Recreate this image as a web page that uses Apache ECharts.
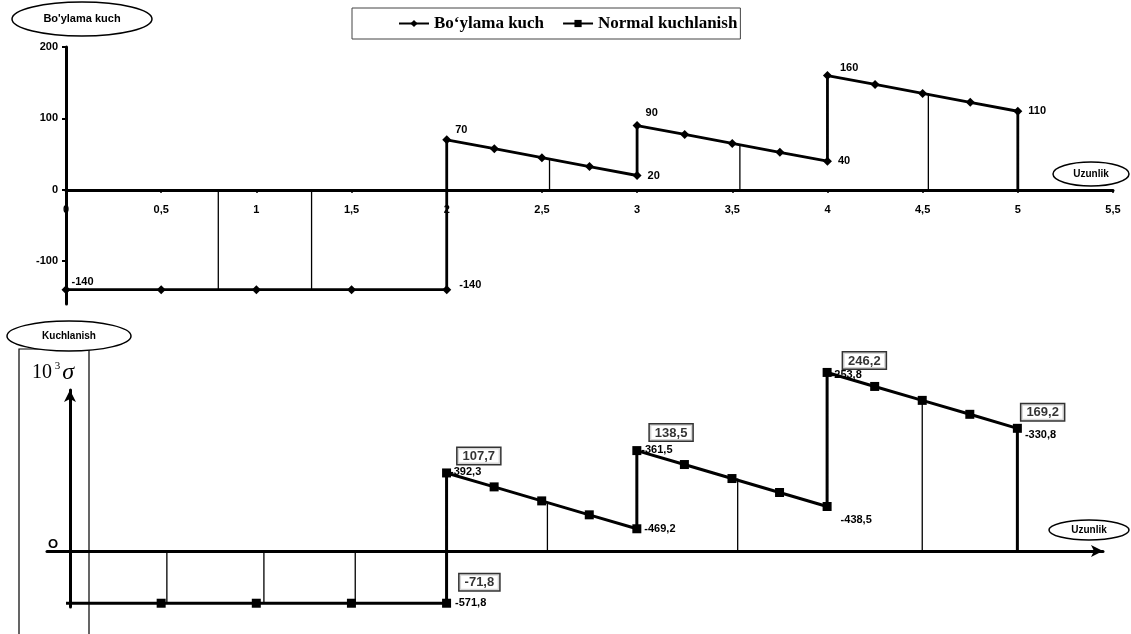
<!DOCTYPE html>
<html>
<head>
<meta charset="utf-8">
<script src="https://cdn.jsdelivr.net/npm/echarts@6/dist/echarts.min.js"></script>
<style>
  html, body { margin: 0; padding: 0; background: #fff; }
  #chart { width: 1131px; height: 634px; }
</style>
</head>
<body>
<div id="chart"></div>
<script>
// Bo'ylama kuch along the length
const forceX = [0, 0.5, 1, 1.5, 2, 2, 2.25, 2.5, 2.75, 3, 3, 3.25, 3.5, 3.75, 4, 4, 4.25, 4.5, 4.75, 5, 5];
const forceY = [-140, -140, -140, -140, -140, 70, 57.5, 45, 32.5, 20, 90, 77.5, 65, 52.5, 40, 160, 147.5, 135, 122.5, 110, 0];
const forceLabelIdx = [0, 4, 5, 9, 10, 14, 15, 19];
// thin hatch lines under the force diagram
const forceHatchX = [0.8, 1.29, 2.54, 3.54, 4.53];
const forceHatchY = [-140, -140, 44, 64, 135];

// normal kuchlanish (10^3 sigma)
const stressX = [0, 0.5, 1, 1.5, 2, 2, 2.25, 2.5, 2.75, 3, 3, 3.25, 3.5, 3.75, 4, 4, 4.25, 4.5, 4.75, 5, 5];
const stressY = [-71.8, -71.8, -71.8, -71.8, -71.8, 107.7, 88.5, 69.2, 50, 30.8, 138.5, 119.3, 100, 80.8, 61.5, 246.2, 226.9, 207.7, 188.5, 169.2, 0];
const stressHatchX = [0.53, 1.04, 1.52, 2.53, 3.53, 4.5];
const stressHatchY = [-71.8, -71.8, -71.8, 68, 100, 207];
// boxed values
const boxX = [2, 2, 3, 4, 5];
const boxY = [-71.8, 107.7, 138.5, 246.2, 169.2];
// the small numbers printed beside the stress points
const smallIdx = [4, 5, 9, 10, 14, 15, 19];
const smallVals = [-571.8, -392.3, -469.2, -361.5, -438.5, -253.8, -330.8];

const xTicks = [0, 0.5, 1, 1.5, 2, 2.5, 3, 3.5, 4, 4.5, 5, 5.5];
const forceTicks = [-100, 0, 100, 200];

const comma = (v) => String(v).replace('.', ',');
const font = 'Liberation Sans, Arial, sans-serif';

// label nudges (layout only)
const forceLabelOffset = {0: [-3, -8], 4: [4, -5], 5: [0, -10], 9: [2, 0], 10: [0, -13], 14: [2, 0], 15: [4, -8], 19: [2, 0]};
const smallOffset = {4: [1, 0], 5: [-4, -1], 9: [0, 0], 10: [-3, -1], 14: [6, 13], 15: [-4, 3], 19: [0, 7]};
const boxOffsets = [[13, -29], [11, -25], [13, -26], [16, -20], [4, -24]];

const forceData = forceX.map((x, i) => {
  const item = { value: [x, forceY[i]] };
  if (forceLabelIdx.includes(i)) {
    item.label = { show: true, position: 'right', distance: 4, offset: forceLabelOffset[i], formatter: comma(forceY[i]) };
  }
  return item;
});

const stressData = stressX.map((x, i) => {
  const item = { value: [x, stressY[i]] };
  const k = smallIdx.indexOf(i);
  if (k >= 0) {
    item.label = { show: true, position: 'right', distance: 3, offset: smallOffset[i], formatter: comma(smallVals[k]) };
  }
  return item;
});

const boxData = boxX.map((x, i) => ({
  value: [x, boxY[i]],
  label: { position: boxOffsets[i] }
}));

const chart = echarts.init(document.getElementById('chart'));

chart.setOption({
  backgroundColor: '#fff',
  animation: false,
  textStyle: { fontFamily: font },
  legend: {
    data: ['Bo‘ylama kuch', 'Normal kuchlanish'],
    left: 352,
    top: 8,
    padding: [7, 3, 7, 46],
    itemWidth: 30,
    itemHeight: 9,
    itemGap: 18,
    borderColor: '#444',
    borderWidth: 1,
    backgroundColor: '#fff',
    textStyle: { fontFamily: 'Liberation Serif, Times New Roman, serif', fontSize: 17, fontWeight: 'bold', color: '#000' }
  },
  grid: [
    { left: 66, right: 18, top: 47, height: 257 },
    { left: 47, right: 28, top: 390, height: 217 }
  ],
  xAxis: [
    {
      gridIndex: 0, type: 'value', min: 0, max: 5.5, interval: 0.5,
      axisLine: { onZero: true, lineStyle: { color: '#000', width: 3 } },
      axisTick: { length: 3, lineStyle: { color: '#000', width: 2 } },
      axisLabel: { show: false },
      splitLine: { show: false }
    },
    {
      // carries the tick labels just under the zero line
      gridIndex: 0, type: 'value', min: 0, max: 5.5, interval: 0.5, position: 'bottom', offset: -115,
      axisLine: { show: false, onZero: false },
      axisTick: { show: false },
      axisLabel: { margin: 15, color: '#000', fontSize: 11, fontWeight: 'bold', formatter: comma, customValues: xTicks },
      splitLine: { show: false }
    },
    {
      gridIndex: 1, type: 'value', min: -0.1, max: 5.45,
      axisLine: { onZero: true, symbol: ['none', 'arrow'], symbolSize: [9, 12], lineStyle: { color: '#000', width: 3 } },
      axisTick: { show: false },
      axisLabel: { show: false },
      splitLine: { show: false }
    }
  ],
  yAxis: [
    {
      gridIndex: 0, type: 'value', min: -160, max: 200,
      axisLine: { show: true, onZero: false, lineStyle: { color: '#000', width: 3 } },
      axisTick: { show: true, length: 4, customValues: forceTicks, lineStyle: { color: '#000', width: 2 } },
      axisLabel: { margin: 8, color: '#000', fontSize: 11, fontWeight: 'bold', customValues: forceTicks },
      splitLine: { show: false }
    },
    {
      gridIndex: 1, type: 'value', min: -77, max: 222, offset: -23,
      axisLine: { show: true, onZero: false, symbol: ['none', 'arrow'], symbolSize: [9, 12], lineStyle: { color: '#000', width: 3 } },
      axisTick: { show: false },
      axisLabel: { margin: 12, color: '#000', fontSize: 13, fontWeight: 'bold', verticalAlign: 'bottom', customValues: [0], formatter: () => 'O' },
      splitLine: { show: false }
    }
  ],
  series: [
    {
      name: 'force hatch', type: 'bar', xAxisIndex: 0, yAxisIndex: 0,
      barWidth: 1.3, itemStyle: { color: '#000' }, silent: true,
      data: forceHatchX.map((x, i) => [x, forceHatchY[i]])
    },
    {
      name: 'Bo‘ylama kuch', type: 'line', xAxisIndex: 0, yAxisIndex: 0,
      symbol: 'diamond',
      symbolSize: (v, p) => (p && p.dataIndex === forceX.length - 1 ? 0 : 9),
      showAllSymbol: true,
      clip: false,
      lineStyle: { color: '#000', width: 2.8 },
      itemStyle: { color: '#000' },
      label: { color: '#000', fontSize: 11, fontWeight: 'bold', fontFamily: font },
      data: forceData
    },
    {
      name: 'stress hatch', type: 'bar', xAxisIndex: 2, yAxisIndex: 1,
      barWidth: 1.3, itemStyle: { color: '#000' }, silent: true,
      data: stressHatchX.map((x, i) => [x, stressHatchY[i]])
    },
    {
      name: 'Normal kuchlanish', type: 'line', xAxisIndex: 2, yAxisIndex: 1,
      symbol: 'rect',
      symbolSize: (v, p) => (p && (p.dataIndex === 0 || p.dataIndex === stressX.length - 1) ? 0 : 9),
      showAllSymbol: true,
      clip: false,
      lineStyle: { color: '#000', width: 3 },
      itemStyle: { color: '#000' },
      label: { color: '#000', fontSize: 11, fontWeight: 'bold', fontFamily: font },
      data: stressData
    },
    {
      name: 'boxes', type: 'scatter', xAxisIndex: 2, yAxisIndex: 1,
      symbolSize: 0, clip: false, silent: true,
      label: {
        show: true, color: '#000', fontSize: 13, fontWeight: 'bold', fontFamily: font,
        backgroundColor: '#fff', borderColor: '#000', borderWidth: 1.5, padding: [2, 5, 1, 5],
        formatter: (p) => comma(p.value[1])
      },
      data: boxData
    }
  ],
  graphic: [
    { type: 'ellipse', shape: { cx: 82, cy: 19, rx: 70, ry: 17 }, style: { fill: '#fff', stroke: '#000', lineWidth: 1.5 } },
    { type: 'text', x: 82, y: 19, style: { text: 'Bo\'ylama kuch', font: 'bold 11px ' + font, fill: '#000', align: 'center', verticalAlign: 'middle' } },
    { type: 'ellipse', shape: { cx: 1091, cy: 174, rx: 38, ry: 12 }, style: { fill: '#fff', stroke: '#000', lineWidth: 1.5 } },
    { type: 'text', x: 1091, y: 174, style: { text: 'Uzunlik', font: 'bold 10px ' + font, fill: '#000', align: 'center', verticalAlign: 'middle' } },
    { type: 'rect', shape: { x: 19, y: 349, width: 70, height: 300 }, style: { fill: 'none', stroke: '#000', lineWidth: 1.2 } },
    { type: 'ellipse', shape: { cx: 69, cy: 336, rx: 62, ry: 15 }, style: { fill: '#fff', stroke: '#000', lineWidth: 1.5 } },
    { type: 'text', x: 69, y: 336, style: { text: 'Kuchlanish', font: 'bold 10px ' + font, fill: '#000', align: 'center', verticalAlign: 'middle' } },
    {
      type: 'text', x: 32, y: 373,
      style: {
        text: '{a|10}{b| 3}{c|σ}',
        verticalAlign: 'middle',
        rich: {
          a: { fontFamily: 'Liberation Serif, serif', fontSize: 20, fill: '#000' },
          b: { fontFamily: 'Liberation Serif, serif', fontSize: 11, fill: '#000', verticalAlign: 'top', padding: [0, 2, 10, 0] },
          c: { fontFamily: 'Liberation Serif, serif', fontSize: 24, fontStyle: 'italic', fill: '#000' }
        }
      }
    },
    { type: 'ellipse', shape: { cx: 1089, cy: 530, rx: 40, ry: 10 }, style: { fill: '#fff', stroke: '#000', lineWidth: 1.5 } },
    { type: 'text', x: 1089, y: 530, style: { text: 'Uzunlik', font: 'bold 10px ' + font, fill: '#000', align: 'center', verticalAlign: 'middle' } }
  ]
});
</script>
</body>
</html>
